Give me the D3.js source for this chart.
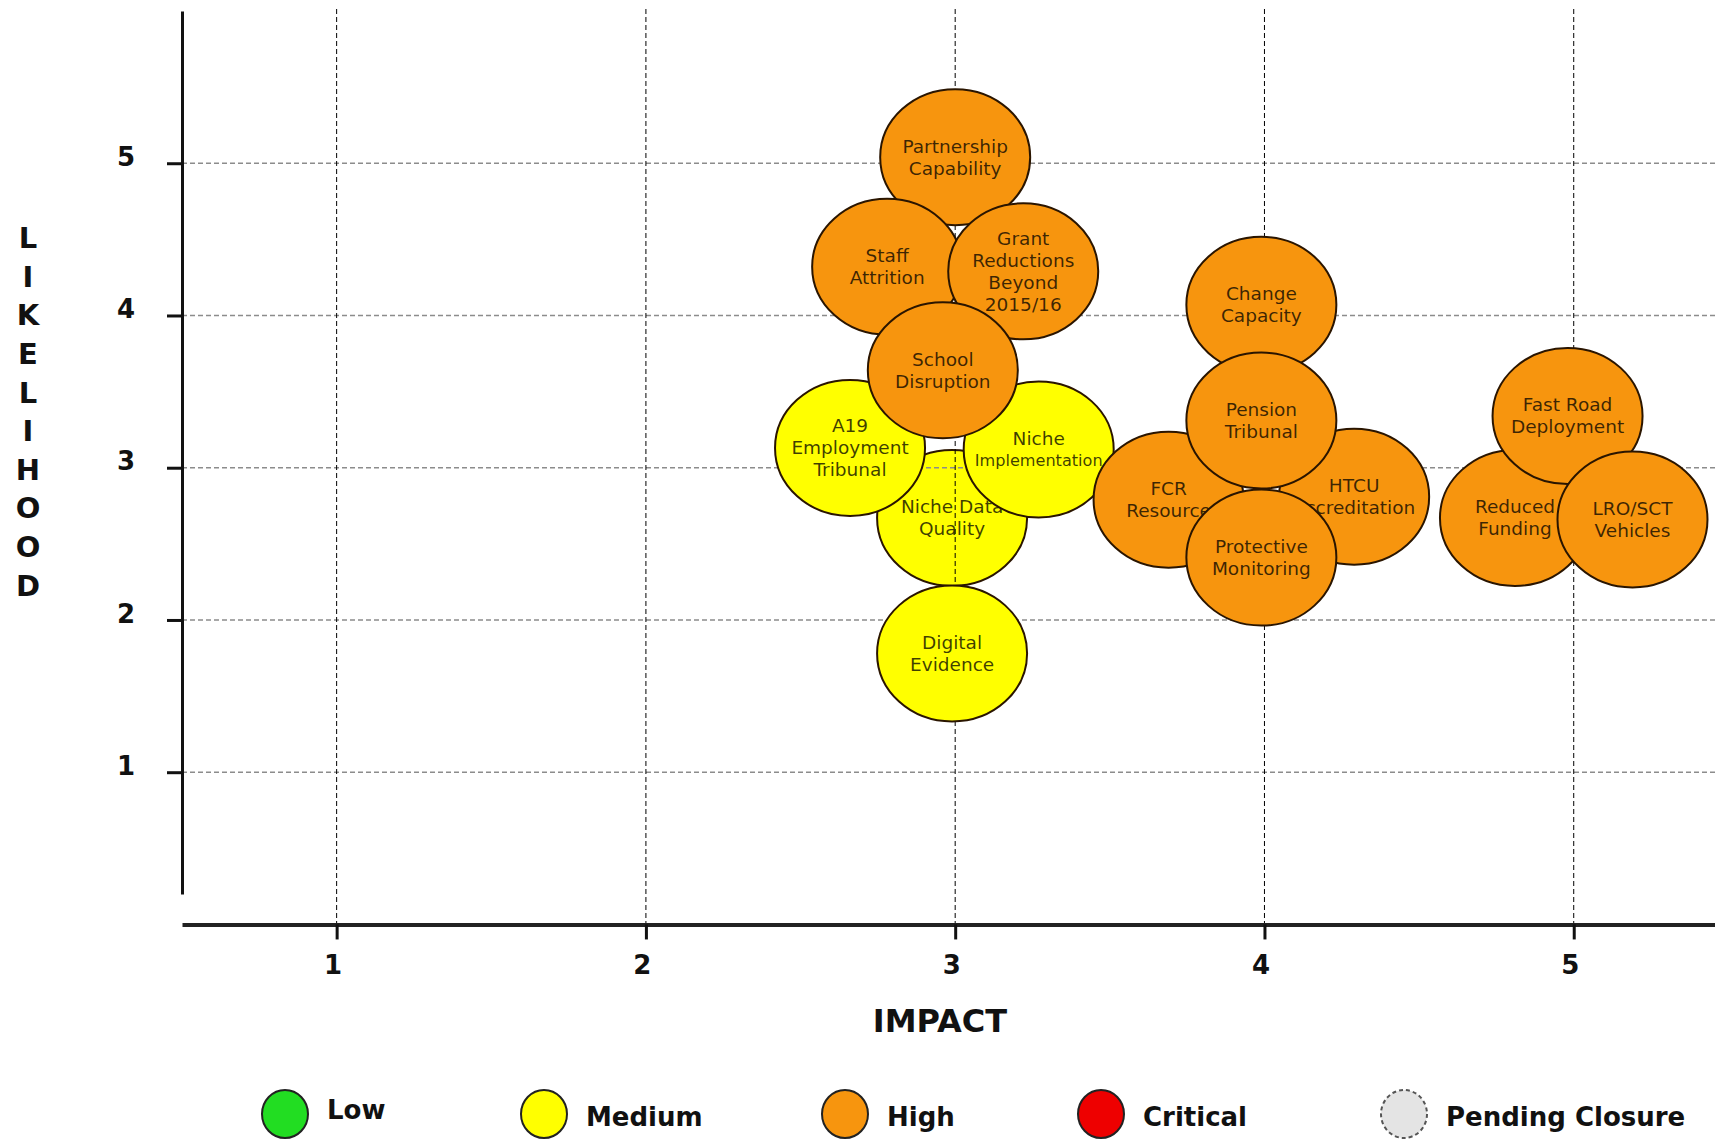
<!DOCTYPE html>
<html>
<head>
<meta charset="utf-8">
<script src="https://cdnjs.cloudflare.com/ajax/libs/d3/7.8.5/d3.min.js"></script>
<style>
	body { margin: 0; background: #fff; }
	svg { display: block; font-family: "DejaVu Sans", Verdana, sans-serif; }
</style>
</head>
<body>
<div id="chart"></div>
<script>
// risks in drawing order (later ones sit on top)
let risks		= ["Niche Data\nQuality", "Partnership\nCapability", "Staff\nAttrition", "Grant\nReductions\nBeyond\n2015/16",
				   "A19\nEmployment\nTribunal", "Niche\nImplementation", "School\nDisruption", "Digital\nEvidence",
				   "Change\nCapacity", "FCR\nResource", "HTCU\nAccreditation", "Pension\nTribunal", "Protective\nMonitoring",
				   "Reduced\nFunding", "Fast Road\nDeployment", "LRO/SCT\nVehicles"];
let impact		= [2.99, 3.00, 2.78, 3.22, 2.66, 3.27, 2.96, 2.99, 3.99, 3.69, 4.29, 3.99, 3.99, 4.81, 4.98, 5.19];
let likelihood	= [2.67, 5.04, 4.32, 4.29, 3.13, 3.12, 3.64, 1.78, 4.07, 2.79, 2.81, 3.31, 2.41, 2.67, 3.34, 2.66];
let rating		= ["Medium", "High", "High", "High", "Medium", "Medium", "High", "Medium",
				   "High", "High", "High", "High", "High", "High", "High", "High"];

let ratings			= ["Low", "Medium", "High", "Critical", "Pending Closure"];
let ratingColors	= ["#22dd22", "#ffff00", "#f7950e", "#ee0000", "#e4e4e4"];
let impactTicks		= [1, 2, 3, 4, 5];
let likelihoodTicks	= [1, 2, 3, 4, 5];
let yTitle			= "LIKELIHOOD";
let xTitle			= "IMPACT";

// the original has this one bubble under the grid lines
let underGrid		= ["Niche Data\nQuality"];

let width		= 1715;
let height		= 1139;
let rx			= 75;
let ry			= 68;
let lineHeight	= 22;
let labelSize	= 18.5;
let maxLine		= 128;

let x		= d3.scaleLinear().domain([0.5, 5.46]).range([182, 1716]);
let y		= d3.scaleLinear().domain([0.2, 6]).range([894, 11]);
let color	= d3.scaleOrdinal().domain(ratings).range(ratingColors);

let data	= risks.map((name, i) => ({ name: name, impact: impact[i], likelihood: likelihood[i], rating: rating[i] }));

let svg = d3.select("#chart").append("svg")
	.attr("width", width)
	.attr("height", height);

svg.append("rect").attr("width", width).attr("height", height).attr("fill", "#fff");

let back	= svg.append("g");
let grid	= svg.append("g");
let axes	= svg.append("g");
let front	= svg.append("g");

grid.selectAll(".hgrid")
	.data(likelihoodTicks)
	.enter().append("line")
		.attr("x1", x(0.5)).attr("x2", x(5.46))
		.attr("y1", (o) => y(o)).attr("y2", (o) => y(o))
		.attr("stroke", "#8c8c8c")
		.attr("stroke-width", 1.5)
		.attr("stroke-dasharray", "5,3");

grid.selectAll(".vgrid")
	.data(impactTicks)
	.enter().append("line")
		.attr("x1", (o) => x(o)).attr("x2", (o) => x(o))
		.attr("y1", y(6) - 2).attr("y2", y(0))
		.attr("stroke", "#000")
		.attr("stroke-width", 1)
		.attr("stroke-dasharray", "5,3");

let xAxis = axes.append("g")
	.attr("transform", "translate(0," + y(0) + ")")
	.call(d3.axisBottom(x).tickValues(impactTicks).tickSizeInner(15).tickSizeOuter(0).tickPadding(16).tickFormat(d3.format("d")));

let yAxis = axes.append("g")
	.attr("transform", "translate(" + x(0.5) + ",0)")
	.call(d3.axisLeft(y).tickValues(likelihoodTicks).tickSizeInner(15).tickSizeOuter(0).tickPadding(32).tickFormat(d3.format("d")));

[xAxis, yAxis].forEach((a) => {
	a.attr("font-family", null).attr("font-size", 26).attr("font-weight", "bold");
	a.select(".domain").attr("stroke", "#111");
	a.selectAll(".tick line").attr("stroke", "#111").attr("stroke-width", 3);
	a.selectAll(".tick text").attr("fill", "#111");
});
xAxis.select(".domain").attr("stroke-width", 4).attr("stroke", "#222");
yAxis.select(".domain").attr("stroke-width", 3);
xAxis.selectAll(".tick text").attr("x", -4);
yAxis.selectAll(".tick text").attr("dy", "0.08em");

// axis titles
svg.append("g").selectAll("text")
	.data(yTitle.split(""))
	.enter().append("text")
		.attr("x", 28)
		.attr("y", (o, i) => 238 + i * 38.6)
		.attr("dy", "0.35em")
		.attr("text-anchor", "middle")
		.attr("font-size", 29)
		.attr("font-weight", "bold")
		.attr("fill", "#111")
		.text((o) => o);

svg.append("text")
	.attr("x", 940)
	.attr("y", 1021)
	.attr("dy", "0.35em")
	.attr("text-anchor", "middle")
	.attr("font-size", 32)
	.attr("font-weight", "bold")
	.attr("fill", "#111")
	.text(xTitle);

function drawBubbles(layer, rows) {
	let bubble = layer.selectAll(".bubble")
		.data(rows)
		.enter().append("g")
			.attr("class", "bubble")
			.attr("transform", (o) => "translate(" + x(o.impact) + "," + y(o.likelihood) + ")");

	bubble.append("ellipse")
		.attr("rx", rx)
		.attr("ry", ry)
		.attr("fill", (o) => color(o.rating))
		.attr("stroke", "#2a1500")
		.attr("stroke-width", 2);

	bubble.append("text")
		.attr("text-anchor", "middle")
		.attr("font-size", labelSize)
		.attr("fill", "#000")
		.attr("fill-opacity", 0.76)
		.each(function (o) {
			let lines	= o.name.split("\n");
			let t		= d3.select(this);
			lines.forEach((line, i) => {
				let span = t.append("tspan")
					.attr("x", 0)
					.attr("y", (i - (lines.length - 1) / 2) * lineHeight)
					.attr("dy", "0.35em")
					.text(line);
				// shrink only the long word, as the original does
				let w = span.node().getComputedTextLength();
				if (w > maxLine) span.attr("font-size", labelSize * maxLine / w);
			});
		});
}

drawBubbles(back, data.filter((o) => underGrid.includes(o.name)));
drawBubbles(front, data.filter((o) => !underGrid.includes(o.name)));

// legend
let legendX = [285, 544, 845, 1101, 1404];

let legend = svg.append("g").selectAll("g")
	.data(ratings)
	.enter().append("g")
		.attr("transform", (o, i) => "translate(" + legendX[i] + ",1114)");

legend.append("ellipse")
	.attr("rx", 23)
	.attr("ry", 24)
	.attr("fill", (o) => color(o))
	.attr("stroke", (o) => (o === "Pending Closure" ? "#555" : "#222"))
	.attr("stroke-width", 2)
	.attr("stroke-dasharray", (o) => (o === "Pending Closure" ? "4,3" : null));

legend.append("text")
	.attr("x", 42)
	.attr("y", (o, i) => (i === 0 ? -4 : 3))
	.attr("dy", "0.35em")
	.attr("font-size", 26)
	.attr("font-weight", "bold")
	.attr("fill", "#111")
	.text((o) => o);
</script>
</body>
</html>
